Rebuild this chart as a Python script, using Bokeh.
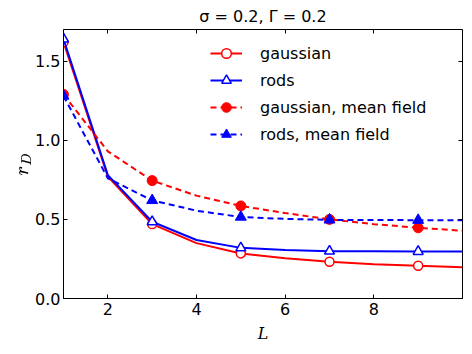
from bokeh.plotting import figure
from bokeh.models import (Range1d, LinearAxis, FixedTicker, NumeralTickFormatter,
                          Legend, LegendItem)
from bokeh.embed import file_html
from bokeh.resources import INLINE

# ---- data ----
L = [1, 2, 3, 4, 5, 6, 7, 8, 9, 10]
gaussian = [1.62, 0.77, 0.47, 0.35, 0.285, 0.255, 0.232, 0.217, 0.207, 0.198]
rods = [1.64, 0.78, 0.485, 0.37, 0.32, 0.306, 0.299, 0.298, 0.297, 0.297]
gaussian_mf = [1.29, 0.93, 0.745, 0.65, 0.585, 0.54, 0.50, 0.47, 0.447, 0.428]
rods_mf = [1.28, 0.76, 0.62, 0.555, 0.515, 0.503, 0.497, 0.496, 0.495, 0.495]
labels = ["gaussian", "rods", "gaussian, mean field", "rods, mean field"]
x_ticks = [2, 4, 6, 8]
y_ticks = [0.0, 0.5, 1.0, 1.5]

FONT = "DejaVu Sans"
RED = "#ff0000"
BLUE = "#0000ff"

p = figure(frame_width=399, frame_height=269, output_backend="svg", toolbar_location=None,
           x_range=Range1d(1, 10), y_range=Range1d(0, 1.7),
           min_border_left=55, min_border_right=2, min_border_top=21,
           min_border_bottom=40, title="σ = 0.2, Γ = 0.2", margin=(0, 0, 0, 8))
p.title.align = "center"
p.title.text_font = FONT
p.title.text_font_size = "16px"
p.title.text_font_style = "normal"
p.title.text_color = "black"
p.title.standoff = 8
p.grid.visible = False
p.outline_line_color = "black"
p.outline_line_width = 1

for ax in (p.xaxis[0], p.yaxis[0]):
    ax.major_tick_in = 4
    ax.major_tick_out = 0
    ax.minor_tick_line_color = None
    ax.major_tick_line_color = "black"
    ax.major_label_text_font = FONT
    ax.major_label_text_font_size = "16px"
    ax.major_label_text_color = "black"
    ax.axis_label_text_font_size = "16px"
    ax.axis_label_text_color = "black"
    ax.axis_line_color = "black"
p.xaxis.ticker = FixedTicker(ticks=x_ticks)
p.yaxis.ticker = FixedTicker(ticks=y_ticks)
p.yaxis.formatter = NumeralTickFormatter(format="0.0")
p.xaxis.axis_label = "L"
p.xaxis.axis_label_text_font = "DejaVu Serif"
p.xaxis.axis_label_text_font_style = "italic"
p.xaxis.major_label_standoff = 4
p.xaxis.axis_label_standoff = 6
p.yaxis.axis_label = r"$$r_D$$"
p.yaxis.major_label_standoff = 3
p.yaxis.axis_label_standoff = -4

for ticks, side in ((y_ticks, "right"), (x_ticks, "above")):
    a = LinearAxis(ticker=FixedTicker(ticks=ticks), major_tick_in=4, major_tick_out=0,
                   minor_tick_line_color=None, major_tick_line_color="black",
                   major_label_text_font_size="0px",
                   major_label_text_color=None, major_label_text_alpha=0,
                   major_label_standoff=0, axis_line_color=None)
    p.add_layout(a, side)

# ---- series ----
l1 = p.line(L, gaussian, line_color=RED, line_width=2)
s1 = p.scatter(L[::2], gaussian[::2], marker="circle", size=9, fill_color="white",
               line_color=RED, line_width=1.5)
l2 = p.line(L, rods, line_color=BLUE, line_width=2)
s2 = p.scatter(L[::2], rods[::2], marker="triangle", size=10, fill_color="white",
               line_color=BLUE, line_width=1.5)
l3 = p.line(L, gaussian_mf, line_color=RED, line_width=2, line_dash="6 4")
s3 = p.scatter(L[::2], gaussian_mf[::2], marker="circle", size=10, fill_color=RED,
               line_color=RED)
l4 = p.line(L, rods_mf, line_color=BLUE, line_width=2, line_dash="6 4")
s4 = p.scatter(L[::2], rods_mf[::2], marker="triangle", size=11, fill_color=BLUE,
               line_color=BLUE)

legend = Legend(items=[LegendItem(label=labels[0], renderers=[l1, s1]),
                       LegendItem(label=labels[1], renderers=[l2, s2]),
                       LegendItem(label=labels[2], renderers=[l3, s3]),
                       LegendItem(label=labels[3], renderers=[l4, s4])],
                location=(147, 152), padding=0, margin=0, spacing=3,
                label_height=24, glyph_height=24, glyph_width=32,
                label_standoff=18, label_text_font=FONT, label_text_color="black",
                label_text_font_size="16px", border_line_color=None,
                background_fill_alpha=0)
p.add_layout(legend)

open("out.html", "w").write(file_html(p, INLINE))
